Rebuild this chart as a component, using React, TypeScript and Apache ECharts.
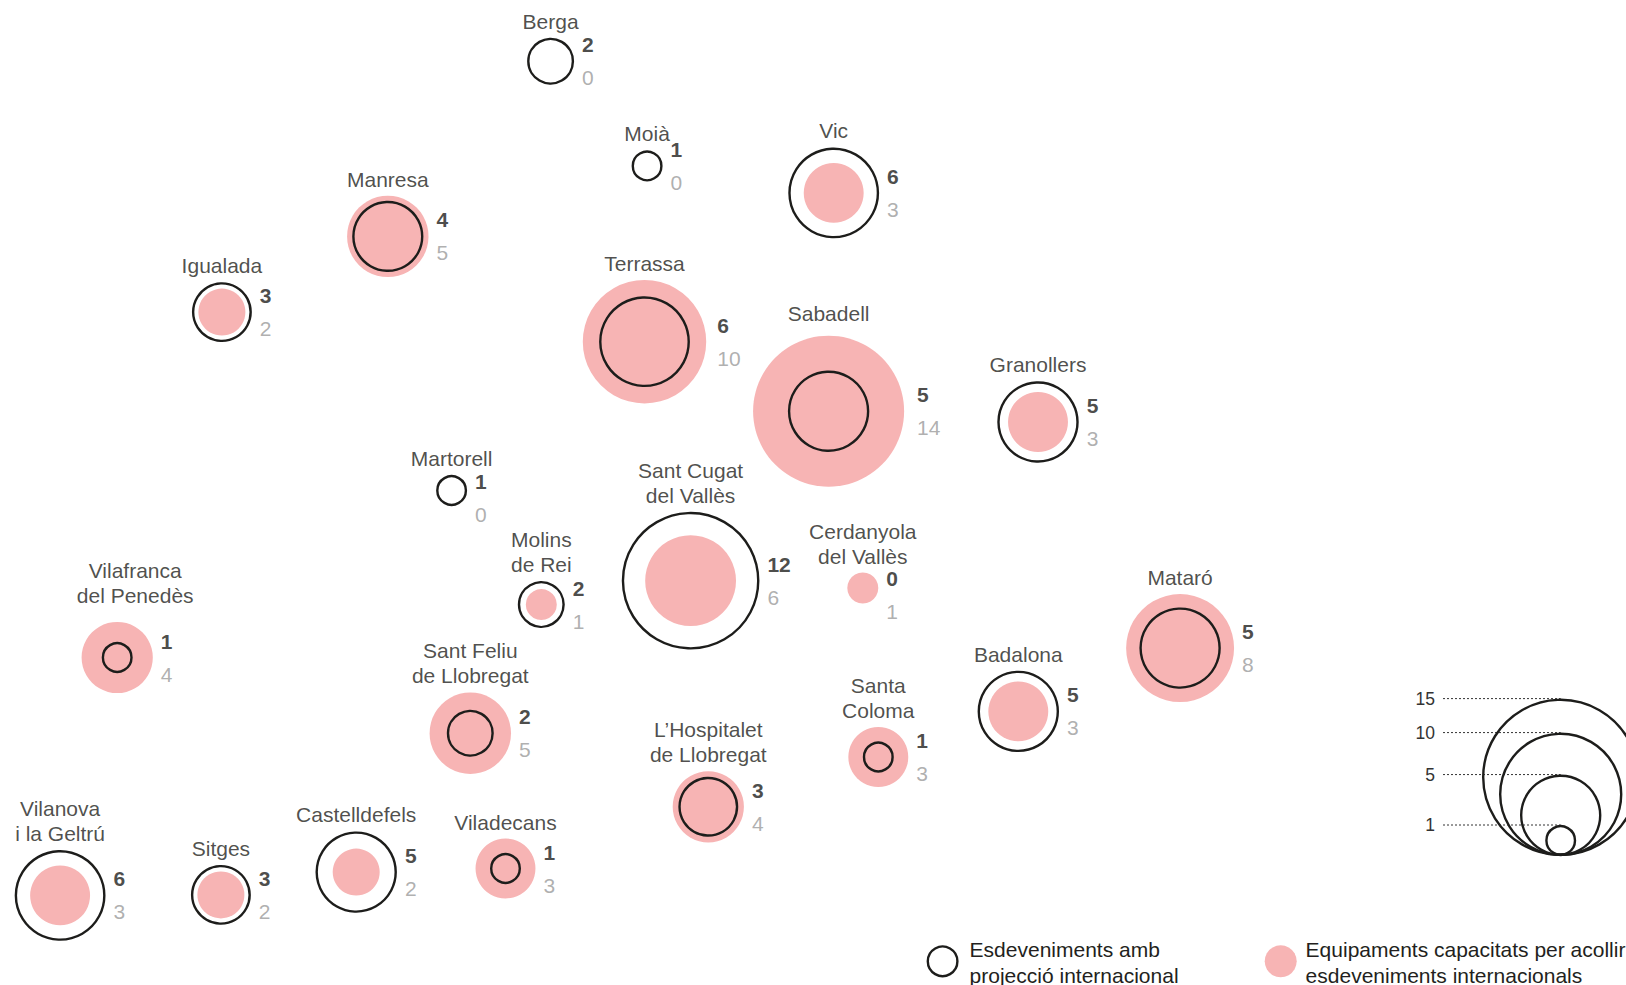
import React, { useEffect, useRef } from "react";
import * as echarts from "echarts";

// Towns (map order) and their positions on the schematic map grid
const towns = [
  "Berga", "Moià", "Vic", "Manresa", "Igualada", "Terrassa", "Sabadell", "Granollers",
  "Martorell", "Sant Cugat\ndel Vallès", "Molins\nde Rei", "Cerdanyola\ndel Vallès",
  "Vilafranca\ndel Penedès", "Mataró", "Sant Feliu\nde Llobregat", "Badalona",
  "Santa\nColoma", "L’Hospitalet\nde Llobregat", "Vilanova\ni la Geltrú", "Sitges",
  "Castelldefels", "Viladecans",
];
const mapX = [550.6, 647.1, 833.7, 387.8, 221.9, 644.5, 828.6, 1038, 451.6, 690.6, 541.3, 862.8, 117.2, 1180.1, 470.3, 1018.3, 878.3, 708.3, 60.1, 220.9, 356.2, 505.5];
const mapY = [61.2, 165.9, 192.9, 236.4, 312.1, 341.7, 411.2, 422, 490.5, 580.7, 604.6, 588, 657.5, 648.1, 733.2, 711.4, 757, 806.8, 895.4, 894.9, 872.1, 868.5];
// Esdeveniments amb projecció internacional
const events = [2, 1, 6, 4, 3, 6, 5, 5, 1, 12, 2, 0, 1, 5, 2, 5, 1, 3, 6, 3, 5, 1];
// Equipaments capacitats per acollir esdeveniments internacionals
const venues = [0, 0, 3, 5, 2, 10, 14, 3, 0, 6, 1, 1, 4, 8, 5, 3, 3, 4, 3, 2, 2, 3];
const sizeLegendValues = [15, 10, 5, 1];
const legendEvents = "Esdeveniments amb\nprojecció internacional";
const legendVenues = "Equipaments capacitats per acollir\nesdeveniments internacionals";

const PINK = "#f7b4b4";
const INK = "#1d1d1b";
const GREY = "#9b9b9b";
const FONT = "'Liberation Sans', Arial, Helvetica, sans-serif";
const STROKE = 2.4;

// label nudges (layout only), keyed by town index
const nameNudge: Record<number, [number, number]> = { 12: [18, -9.5], 6: [0, -6] };
const numNudge: Record<number, [number, number]> = { 8: [0, 7], 11: [0, 7], 6: [5, 0], 5: [3, 0] };

const rad = (v: number) => (v > 0 ? 15.5 * Math.pow(v, 0.6) : 0);

export default function App() {
  const ref = useRef<HTMLDivElement>(null);
  useEffect(() => {
    if (!ref.current) return;
    const chart = echarts.init(ref.current, undefined, { renderer: "svg" });

    const idx = towns.map((_, i) => i);
    const pinkData = idx.filter((i) => venues[i] > 0).map((i) => [mapX[i], mapY[i], venues[i]]);
    const blackData = idx.filter((i) => events[i] > 0).map((i) => [mapX[i], mapY[i], events[i]]);
    const nameData = idx.map((i) => ({
      value: [mapX[i], mapY[i], Math.max(rad(events[i]), rad(venues[i]))],
      name: towns[i],
      label: { offset: nameNudge[i] || [0, 0] },
    }));
    const numData = idx.map((i) => ({
      value: [mapX[i], mapY[i], Math.max(rad(events[i]), rad(venues[i]))],
      name: towns[i],
      ev: events[i],
      vn: venues[i],
      label: { offset: numNudge[i] || [0, 0] },
    }));

    const baseX = 1560.7;
    const baseY = 856;
    const graphics: any[] = [];
    sizeLegendValues.forEach((v) => {
      const r = rad(v);
      const topY = baseY - 2 * r;
      graphics.push({
        type: "line",
        shape: { x1: 1443, y1: topY, x2: baseX, y2: topY },
        style: { stroke: "#333", lineWidth: 1, lineDash: [2, 2] },
        silent: true,
        z: 1,
      });
      graphics.push({
        type: "text",
        x: 1435,
        y: topY,
        style: { text: String(v), align: "right", verticalAlign: "middle", fontSize: 17.5, fontFamily: FONT, fill: "#333" },
        silent: true,
      });
    });
    sizeLegendValues.forEach((v) => {
      const r = rad(v);
      graphics.push({
        type: "circle",
        shape: { cx: baseX, cy: baseY - r, r: r - STROKE / 2 },
        style: { fill: "none", stroke: INK, lineWidth: STROKE },
        silent: true,
        z: 2,
      });
    });
    // bottom legend
    graphics.push({
      type: "circle",
      shape: { cx: 942.6, cy: 961.3, r: 14.8 },
      style: { fill: "none", stroke: INK, lineWidth: STROKE },
      silent: true,
    });
    graphics.push({
      type: "text",
      x: 969.6,
      y: 936,
      style: { text: legendEvents, fontSize: 21, lineHeight: 26, fontFamily: FONT, fill: "#231f20", verticalAlign: "top" },
      silent: true,
    });
    graphics.push({
      type: "circle",
      shape: { cx: 1280.7, cy: 961.3, r: 16 },
      style: { fill: PINK },
      silent: true,
    });
    graphics.push({
      type: "text",
      x: 1305.6,
      y: 936,
      style: { text: legendVenues, fontSize: 21, lineHeight: 26, fontFamily: FONT, fill: "#231f20", verticalAlign: "top" },
      silent: true,
    });

    chart.setOption({
      animation: false,
      backgroundColor: "#ffffff",
      textStyle: { fontFamily: FONT },
      grid: { left: 0, top: 0, right: 0, bottom: 0 },
      xAxis: { type: "value", min: 0, max: 1626, show: false },
      yAxis: { type: "value", min: 0, max: 985, inverse: true, show: false },
      series: [
        {
          type: "scatter",
          data: pinkData,
          symbol: "circle",
          symbolSize: (d: number[]) => 2 * rad(d[2]),
          itemStyle: { color: PINK, opacity: 1 },
          silent: true,
          z: 1,
        },
        {
          type: "scatter",
          data: blackData,
          symbol: "circle",
          symbolSize: (d: number[]) => 2 * rad(d[2]) - STROKE,
          itemStyle: { color: "rgba(0,0,0,0)", borderColor: INK, borderWidth: STROKE, opacity: 1 },
          silent: true,
          z: 2,
        },
        {
          type: "scatter",
          data: nameData,
          symbol: "circle",
          symbolSize: (d: number[]) => 2 * d[2],
          itemStyle: { color: "rgba(0,0,0,0)", borderWidth: 0 },
          silent: true,
          z: 3,
          label: {
            show: true,
            position: "top",
            distance: 4,
            formatter: (p: any) => p.data.name,
            fontSize: 21,
            lineHeight: 25,
            color: "#231f20",
            fontFamily: FONT,
            align: "center",
          },
        },
        {
          type: "scatter",
          data: numData,
          symbol: "circle",
          symbolSize: (d: number[]) => 2 * d[2],
          itemStyle: { color: "rgba(0,0,0,0)", borderWidth: 0 },
          silent: true,
          z: 3,
          label: {
            show: true,
            position: "right",
            distance: 8,
            formatter: (p: any) => `{a|${p.data.ev}}\n{b|${p.data.vn}}`,
            rich: {
              a: { fontSize: 21, lineHeight: 33, fontWeight: "bold", color: INK, fontFamily: FONT },
              b: { fontSize: 21, lineHeight: 33, color: GREY, fontFamily: FONT },
            },
          },
        },
      ],
      graphic: graphics,
    });
    return () => chart.dispose();
  }, []);
  return <div ref={ref} style={{ position: "fixed", left: 0, top: 0, width: 1626, height: 985 }} />;
}
